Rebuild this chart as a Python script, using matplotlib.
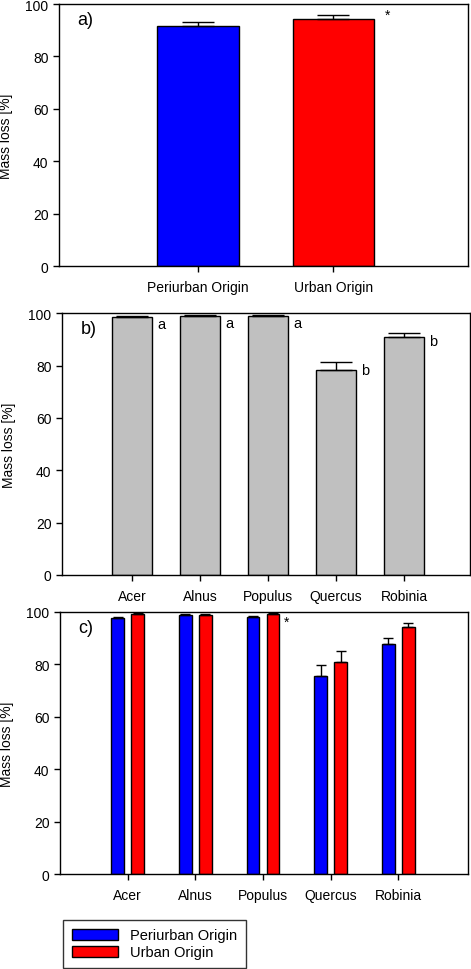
import numpy as np
import matplotlib
matplotlib.use("Agg")
import matplotlib.pyplot as plt
from matplotlib.patches import Patch

plt.rcParams['font.family'] = ['Liberation Sans', 'DejaVu Sans']
plt.rcParams['font.size'] = 10

# panel a: origin only
origins = ["Periurban Origin", "Urban Origin"]
origin_mean = [91.7, 94.4]
origin_se = [1.3, 1.5]

# panel b: species only
species = ["Acer", "Alnus", "Populus", "Quercus", "Robinia"]
species_mean = [98.5, 98.9, 98.9, 78.4, 90.8]
species_se = [0.5, 0.4, 0.3, 3.0, 1.7]
species_letters = ["a", "a", "a", "b", "b"]

# panel c: species x origin
peri_mean = [97.5, 98.8, 98.1, 75.6, 87.8]
peri_se = [0.6, 0.3, 0.3, 4.1, 2.3]
urban_mean = [99.1, 98.8, 99.2, 81.0, 94.0]
urban_se = [0.3, 0.3, 0.3, 3.9, 1.7]

blue = "#0000ff"
red = "#ff0000"
grey = "#c0c0c0"


def style_axes(ax, letter):
    ax.set_ylim(0, 100)
    ax.set_yticks([0, 20, 40, 60, 80, 100])
    ax.tick_params(direction="out", length=4, width=1, top=False, right=False,
                   labelsize=10)
    ax.tick_params(axis="x", pad=6)
    for s in ax.spines.values():
        s.set_linewidth(1)
    ax.set_ylabel("Mass loss [%]", fontsize=10)
    ax.yaxis.set_label_coords(-0.113, 0.5)
    ax.text(0.045, 0.94, letter, transform=ax.transAxes, fontsize=13, va="center", ha="left")


fig = plt.figure(figsize=(4.71, 9.70), dpi=100)

# a)
ax1 = fig.add_axes([0.125, 0.7247, 0.869, 0.2701])
x1 = np.arange(len(origins))
ax1.bar(x1, origin_mean, width=0.6, color=[blue, red], edgecolor="black", linewidth=1)
ax1.errorbar(x1, origin_mean, yerr=[np.zeros(2), origin_se], fmt="none", ecolor="black",
             elinewidth=1, capsize=11.5, capthick=1)
ax1.set_xlim(-1.03, 2.0)
ax1.set_xticks(x1)
ax1.set_xticklabels(origins)
ax1.text(1.4, origin_mean[1] + origin_se[1], "*", fontsize=10, ha="center", va="center")
style_axes(ax1, "a)")

# b)
ax2 = fig.add_axes([0.1316, 0.4062, 0.8664, 0.2698])
x2 = np.arange(len(species))
ax2.bar(x2, species_mean, width=0.6, color=grey, edgecolor="black", linewidth=1)
ax2.errorbar(x2, species_mean, yerr=[np.zeros(5), species_se], fmt="none", ecolor="black",
             elinewidth=1, capsize=11.5, capthick=1)
for i, lab in enumerate(species_letters):
    ax2.text(x2[i] + 0.43, species_mean[i] + species_se[i] - 3.0, lab, fontsize=10.5,
             ha="center", va="center")
ax2.set_xlim(-1.03, 4.97)
ax2.set_xticks(x2)
ax2.set_xticklabels(species)
style_axes(ax2, "b)")

# c)
ax3 = fig.add_axes([0.127, 0.0979, 0.867, 0.2705])
off = 0.148
w = 0.19
ax3.bar(x2 - off, peri_mean, width=w, color=blue, edgecolor="black", linewidth=1,
        label="Periurban Origin")
ax3.bar(x2 + off, urban_mean, width=w, color=red, edgecolor="black", linewidth=1,
        label="Urban Origin")
ax3.errorbar(x2 - off, peri_mean, yerr=[np.zeros(5), peri_se], fmt="none", ecolor="black",
             elinewidth=1, capsize=3.6, capthick=1)
ax3.errorbar(x2 + off, urban_mean, yerr=[np.zeros(5), urban_se], fmt="none", ecolor="black",
             elinewidth=1, capsize=3.6, capthick=1)
ax3.text(2 + 0.35, 96.2, "*", fontsize=10, ha="center", va="center")
ax3.set_xlim(-1.0, 5.03)
ax3.set_xticks(x2)
ax3.set_xticklabels(species)
style_axes(ax3, "c)")

handles = [Patch(facecolor=blue, edgecolor="black", label="Periurban Origin"),
           Patch(facecolor=red, edgecolor="black", label="Urban Origin")]
leg = fig.legend(handles=handles, loc="lower left", bbox_to_anchor=(63 / 471, 1 / 970),
                 borderaxespad=0, frameon=True, fancybox=False, edgecolor="black",
                 fontsize=10.5, handlelength=3.2, handleheight=0.8, handletextpad=0.8,
                 borderpad=0.6, labelspacing=0.2)
leg.get_frame().set_linewidth(1)

fig.savefig("out.png", dpi=100)
